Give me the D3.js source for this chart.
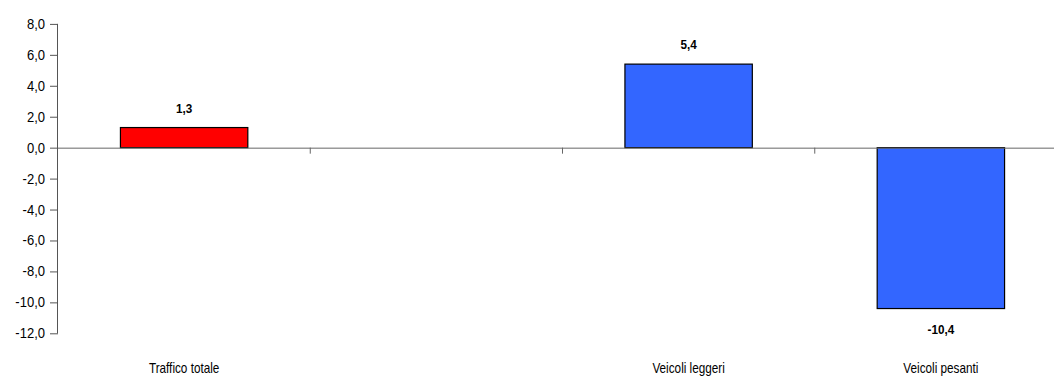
<!DOCTYPE html>
<html><head><meta charset="utf-8">
<script src="https://cdn.jsdelivr.net/npm/d3@7"></script>
<style>
body{margin:0;background:#fff;}
text{font-family:"Liberation Sans",Arial,sans-serif;}
</style></head>
<body><svg id="c" width="1054" height="376"></svg>
<script>
const categories = ["Traffico totale", "", "Veicoli leggeri", "Veicoli pesanti"];
const values = [1.3, null, 5.4, -10.4];
const colors = ["#FF0000", null, "#3366FF", "#3366FF"];
const yTicks = [8, 6, 4, 2, 0, -2, -4, -6, -8, -10, -12];

(function(){
const svg = d3.select("#c");
const mLeft = 58, mRight = 1067, mTop = 23.9, mBottom = 333.3;
const x = d3.scaleBand().domain(d3.range(categories.length)).range([mLeft, mRight]).paddingInner(0).paddingOuter(0);
const y = d3.scaleLinear().domain([-12, 8]).range([mBottom, mTop]);
const fmt = v => v.toFixed(1).replace(".", ",");

// y axis
const ya = svg.append("g").attr("transform", `translate(${mLeft},0)`)
  .call(d3.axisLeft(y).tickValues(yTicks).tickSize(8).tickPadding(5).tickFormat(fmt));
ya.select(".domain").attr("stroke", "#555").attr("d", `M-0.5,${y(8)}V${y(-12)}`);
ya.selectAll(".tick line").attr("stroke", "#555");
ya.selectAll("text").attr("font-size", 14).attr("fill", "#000")
  .attr("font-family", '"Liberation Sans",Arial,sans-serif')
  .attr("transform", "scale(0.93,1)").attr("x", -13 / 0.93);

// bars
const bw = x.bandwidth() * 0.505;
const data = categories.map((c, i) => ({i, c, v: values[i], col: colors[i]})).filter(d => d.v !== null);
svg.append("g").selectAll("rect").data(data).join("rect")
  .attr("x", d => x(d.i) + (x.bandwidth() - bw) / 2)
  .attr("width", bw)
  .attr("y", d => y(Math.max(0, d.v)))
  .attr("height", d => Math.abs(y(d.v) - y(0)))
  .attr("fill", d => d.col)
  .attr("stroke", "#000").attr("stroke-width", 1.2);

// zero line with category ticks
const xa = svg.append("g").attr("transform", `translate(0,${y(0)})`)
  .call(d3.axisBottom(x).tickSize(0).tickFormat(""));
xa.select(".domain").attr("stroke", "#666").attr("d", `M${mLeft},0.5H1054`);
xa.selectAll(".tick").remove();
svg.append("g").selectAll("line").data(d3.range(1, categories.length)).join("line")
  .attr("x1", d => x(d)).attr("x2", d => x(d))
  .attr("y1", y(0)).attr("y2", y(0) + 6)
  .attr("stroke", "#666").attr("stroke-width", 1);

// value labels
svg.append("g").selectAll("text").data(data).join("text")
  .attr("transform", d => `translate(${x(d.i) + x.bandwidth() / 2},${d.v >= 0 ? y(d.v) - 15 : y(d.v) + 25}) scale(0.9,1)`)
  .attr("text-anchor", "middle").attr("font-size", 13).attr("font-weight", "bold")
  .text(d => fmt(d.v));

// category labels
svg.append("g").selectAll("text").data(categories.map((c, i) => ({c, i}))).join("text")
  .attr("transform", d => `translate(${x(d.i) + x.bandwidth() / 2},373) scale(0.84,1)`)
  .attr("text-anchor", "middle").attr("font-size", 14)
  .text(d => d.c);
})();
</script></body></html>
